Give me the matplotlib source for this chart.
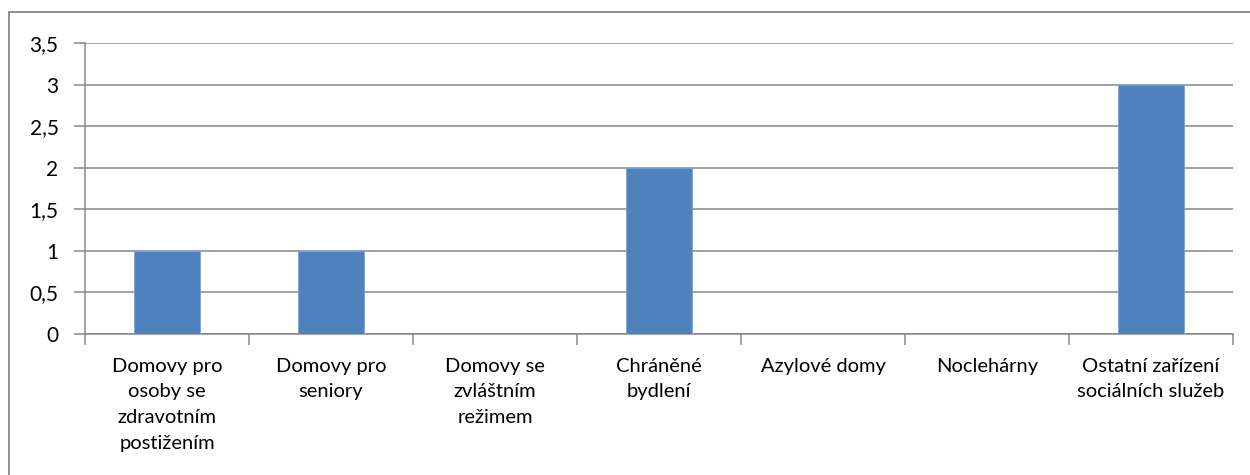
import numpy as np
import matplotlib.pyplot as plt
from matplotlib.patches import Rectangle
from matplotlib.ticker import FixedLocator, NullFormatter

kategorie = ['Domovy pro\nosoby se\nzdravotním\npostižením',
             'Domovy pro\nseniory',
             'Domovy se\nzvláštním\nrežimem',
             'Chráněné\nbydlení',
             'Azylové domy',
             'Noclehárny',
             'Ostatní zařízení\nsociálních služeb']
hodnoty = [1, 1, 0, 2, 0, 0, 3]
yticks = [0, 0.5, 1, 1.5, 2, 2.5, 3, 3.5]
ylabels = ['0', '0,5', '1', '1,5', '2', '2,5', '3', '3,5']

plt.rcParams['font.family'] = ['Lato', 'DejaVu Sans']
seda = '#878787'

fig = plt.figure(figsize=(12.5, 4.75), dpi=100)
# ramecek grafu (prave a dolni okraje jsou orizle)
fig.patches.append(Rectangle((9/1250, -0.1), 1.2, 1 - 12/475 + 0.1,
                             transform=fig.transFigure, fill=False,
                             edgecolor=seda, lw=1.3))
ax = fig.add_axes([85/1250, 1 - 334/475, (1233 - 85)/1250, (334 - 43)/475])

x = np.arange(len(kategorie))
ax.bar(x, hodnoty, width=0.4, color='#4F81BD', edgecolor='#7FA0CF', lw=0.6, zorder=3)

ax.set_xlim(-0.5, len(kategorie) - 0.5)
ax.set_ylim(0, 3.5)
ax.set_yticks(yticks)
ax.set_yticklabels(ylabels, fontsize=15)
ax.yaxis.grid(True, color=seda, lw=1.1, zorder=0)

ax.set_xticks(x)
ax.set_xticklabels(kategorie, fontsize=14.5, linespacing=1.62, va='top')
ax.tick_params(axis='x', length=0, pad=17)
ax.xaxis.set_minor_locator(FixedLocator(np.arange(-0.5, len(kategorie), 1)))
ax.xaxis.set_minor_formatter(NullFormatter())
ax.tick_params(axis='x', which='minor', length=8, color=seda, width=1.1, direction='out')
ax.tick_params(axis='y', length=8, color=seda, width=1.1, pad=11)

for s in ['top', 'right']:
    ax.spines[s].set_visible(False)
for s in ['left', 'bottom']:
    ax.spines[s].set_color(seda)
    ax.spines[s].set_linewidth(1.1)

fig.savefig('out.png', dpi=100)
